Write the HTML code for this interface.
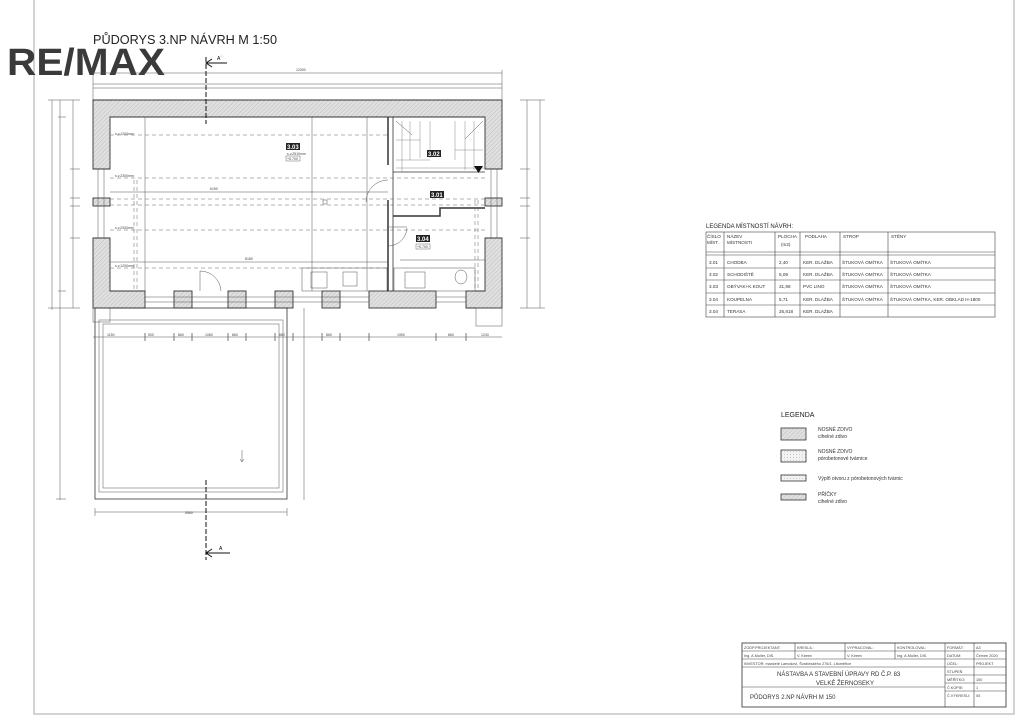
<!DOCTYPE html>
<html><head><meta charset="utf-8"><style>
html,body{margin:0;padding:0;background:#fff;}
svg{display:block;font-family:"Liberation Sans",sans-serif;}
.t{font-size:5px;fill:#333}
.s{font-size:3.5px;fill:#444}
</style></head><body>
<svg width="1024" height="723" viewBox="0 0 1024 723" xmlns="http://www.w3.org/2000/svg">
<defs>
<pattern id="h" width="3" height="3" patternUnits="userSpaceOnUse" patternTransform="rotate(45)">
<rect width="3" height="3" fill="#e0e0e0"/><line x1="0" y1="0" x2="0" y2="3" stroke="#b5b5b5" stroke-width="0.8"/></pattern>
<pattern id="d" width="3" height="3" patternUnits="userSpaceOnUse"><rect width="3" height="3" fill="#f2f2f2"/><circle cx="1.5" cy="1.5" r="0.4" fill="#999"/></pattern>
</defs>
<rect width="1024" height="723" fill="#fff"/>
<path d="M34 0 V714 H1014 V0" fill="none" stroke="#aaa" stroke-width="1"/>

<text x="93" y="44" font-size="12.5" fill="#222" textLength="184" lengthAdjust="spacingAndGlyphs">PŮDORYS 3.NP NÁVRH M 1:50</text>
<text x="7" y="75" font-size="38" font-weight="bold" fill="#3a3a3a" textLength="158" lengthAdjust="spacingAndGlyphs">RE/MAX</text>

<g stroke="#555" stroke-width="0.5" fill="none">
<line x1="93" y1="73" x2="502" y2="73"/><line x1="93" y1="70" x2="93" y2="100"/><line x1="502" y1="70" x2="502" y2="100"/>
<line x1="93" y1="84" x2="502" y2="84"/><line x1="93" y1="88" x2="502" y2="88"/>
<line x1="52" y1="100" x2="52" y2="310"/><line x1="60" y1="100" x2="60" y2="500"/><line x1="73" y1="100" x2="73" y2="308"/>
<line x1="48" y1="100" x2="80" y2="100"/><line x1="48" y1="308" x2="80" y2="308"/>
<line x1="70" y1="169" x2="80" y2="169"/><line x1="70" y1="198" x2="80" y2="198"/><line x1="70" y1="206" x2="80" y2="206"/><line x1="70" y1="238" x2="80" y2="238"/><line x1="58" y1="117" x2="66" y2="117"/><line x1="58" y1="291" x2="66" y2="291"/>
<line x1="56" y1="499" x2="66" y2="499"/>
<line x1="527" y1="100" x2="527" y2="308"/><line x1="540" y1="100" x2="540" y2="308"/>
<line x1="520" y1="100" x2="545" y2="100"/><line x1="520" y1="308" x2="545" y2="308"/>
<line x1="520" y1="169" x2="530" y2="169"/><line x1="520" y1="198" x2="530" y2="198"/><line x1="520" y1="206" x2="530" y2="206"/><line x1="520" y1="238" x2="530" y2="238"/>
</g>
<text class="s" x="296" y="71">12300</text>

<g fill="url(#h)" stroke="#333" stroke-width="0.9">
<path d="M93 100 H502 V169 H485 V117 H110 V169 H93 Z"/>
<rect x="93" y="198" width="17" height="8"/><rect x="485" y="198" width="17" height="8"/>
<path d="M93 238 H110 V291 H145 V308 H93 Z"/>
<path d="M485 238 H502 V308 H466 V291 H485 Z"/>
<rect x="174" y="291" width="18" height="17"/><rect x="228" y="291" width="18" height="17"/>
<rect x="275" y="291" width="18" height="17"/><rect x="322" y="291" width="18" height="17"/>
<rect x="369" y="291" width="67" height="17"/>
</g>
<g stroke="#555" stroke-width="0.5" fill="none">
<line x1="98" y1="169" x2="98" y2="238"/><line x1="104" y1="169" x2="104" y2="238"/>
<line x1="491" y1="169" x2="491" y2="238"/><line x1="497" y1="169" x2="497" y2="238"/>
<line x1="145" y1="297" x2="369" y2="297"/><line x1="145" y1="302" x2="369" y2="302"/>
<line x1="436" y1="297" x2="466" y2="297"/><line x1="436" y1="302" x2="466" y2="302"/>
<rect x="93" y="308" width="17" height="14"/><rect x="476" y="308" width="26" height="18"/>
<line x1="388" y1="117" x2="388" y2="165" stroke="#333" stroke-width="1.5"/>
<line x1="388" y1="200" x2="388" y2="291" stroke="#333" stroke-width="1.5"/>
<line x1="393" y1="117" x2="393" y2="291" stroke="#333" stroke-width="0.8"/>
<path d="M393 216 H440 V208 H485" stroke="#333" stroke-width="1.5"/>
<line x1="393" y1="172" x2="485" y2="172" stroke="#333" stroke-width="0.8"/>
<path d="M396 121 L412 135 M483 121 L465 139" />
<g stroke="#888"><line x1="402" y1="121" x2="402" y2="172"/><line x1="410" y1="121" x2="410" y2="160"/><line x1="420" y1="121" x2="420" y2="158"/><line x1="430" y1="121" x2="430" y2="158"/><line x1="455" y1="121" x2="455" y2="160"/><line x1="465" y1="121" x2="465" y2="170"/><line x1="474" y1="121" x2="474" y2="170"/>
<line x1="396" y1="140" x2="420" y2="140"/><line x1="396" y1="160" x2="430" y2="160"/><line x1="455" y1="150" x2="483" y2="150"/><line x1="396" y1="168" x2="485" y2="168"/></g>
<g stroke="#666" stroke-dasharray="4,3"><line x1="110" y1="135" x2="388" y2="135"/><line x1="110" y1="178" x2="485" y2="178"/>
<line x1="110" y1="199" x2="485" y2="199"/><line x1="110" y1="205" x2="485" y2="205"/>
<line x1="110" y1="230" x2="485" y2="230"/><line x1="110" y1="268" x2="388" y2="268"/>
<line x1="134" y1="180" x2="134" y2="291"/><line x1="137" y1="180" x2="137" y2="291"/>
<line x1="475" y1="200" x2="475" y2="291"/><line x1="478" y1="200" x2="478" y2="291"/></g>
<line x1="145" y1="117" x2="145" y2="291"/><line x1="312" y1="117" x2="312" y2="291"/><line x1="367" y1="117" x2="367" y2="291"/>
<line x1="110" y1="192" x2="388" y2="192"/><line x1="110" y1="262" x2="388" y2="262"/>
<line x1="400" y1="260" x2="485" y2="260"/>
<path d="M200 271 A 21 21 0 0 1 221 291"/><line x1="200" y1="271" x2="200" y2="291"/>
<path d="M388 180 A 22 22 0 0 0 366 202"/><path d="M388 246 A 19 19 0 0 0 407 228"/><line x1="388" y1="227" x2="407" y2="227"/>
<rect x="302" y="268" width="85" height="23"/><rect x="311" y="272" width="16" height="16"/><rect x="343" y="272" width="14" height="14"/>
<rect x="394" y="268" width="81" height="23"/><rect x="405" y="272" width="20" height="16"/>
<ellipse cx="461" cy="277" rx="6" ry="7"/>
<rect x="323" y="200" width="4" height="4"/>
<rect x="95" y="308" width="192" height="191" stroke="#333" stroke-width="0.8"/>
<rect x="99" y="320" width="184" height="172"/>
<rect x="103" y="324" width="176" height="164"/>
<line x1="304" y1="308" x2="304" y2="500"/>
<line x1="95" y1="512" x2="287" y2="512"/><line x1="95" y1="508" x2="95" y2="516"/><line x1="287" y1="508" x2="287" y2="516"/>
<line x1="93" y1="337" x2="502" y2="337"/>
<g stroke-width="0.8"><line x1="145" y1="333" x2="145" y2="341"/><line x1="174" y1="333" x2="174" y2="341"/><line x1="192" y1="333" x2="192" y2="341"/><line x1="228" y1="333" x2="228" y2="341"/><line x1="246" y1="333" x2="246" y2="341"/><line x1="275" y1="333" x2="275" y2="341"/><line x1="293" y1="333" x2="293" y2="341"/><line x1="322" y1="333" x2="322" y2="341"/><line x1="340" y1="333" x2="340" y2="341"/><line x1="369" y1="333" x2="369" y2="341"/><line x1="436" y1="333" x2="436" y2="341"/><line x1="466" y1="333" x2="466" y2="341"/></g>
<path d="M242 450 V462" /><path d="M240 459 L242 462 L244 459"/>
</g>
<g stroke="#111" stroke-width="1" fill="none">
<line x1="206" y1="57" x2="206" y2="124" stroke-dasharray="5,2"/>
<line x1="206" y1="63" x2="227" y2="63"/><path d="M212 59 L206 63 L212 67"/>
<line x1="206" y1="480" x2="206" y2="560" stroke-dasharray="5,2"/>
<line x1="206" y1="553" x2="230" y2="553"/><path d="M212 549 L206 553 L212 557"/>
</g>
<text x="217" y="60" font-size="5">A´</text><text x="219" y="550" font-size="5">A</text>
<g font-size="6" font-weight="bold"><rect x="286" y="143" width="14" height="7" fill="#222"/><text x="287" y="149" fill="#fff">3.03</text>
<rect x="427" y="150" width="14" height="7" fill="#222"/><text x="428" y="156" fill="#fff">3.02</text>
<rect x="430" y="191" width="14" height="7" fill="#222"/><text x="431" y="197" fill="#fff">3.01</text>
<rect x="416" y="235" width="14" height="7" fill="#222"/><text x="417" y="241" fill="#fff">3.04</text></g>
<text class="s" x="287" y="155">s.v.2510mm</text><rect x="286" y="156" width="14" height="5" fill="none" stroke="#444" stroke-width="0.4"/><text class="s" x="287" y="160">+5.700</text>
<rect x="416" y="244" width="14" height="5" fill="none" stroke="#444" stroke-width="0.4"/><text class="s" x="417" y="248">+5.700</text>
<path d="M474 166 L483 166 L478.5 173 Z" fill="#111"/>
<g class="s"><text x="115" y="135">s.v.1200mm</text><text x="115" y="177">s.v.2300mm</text><text x="115" y="229">s.v.2300mm</text><text x="115" y="267">s.v.1200mm</text><text x="210" y="190">6150</text><text x="245" y="260">8180</text>
<text x="107" y="336">1150</text><text x="148" y="336">500</text><text x="178" y="336">860</text><text x="205" y="336">1060</text><text x="232" y="336">860</text><text x="279" y="336">860</text><text x="326" y="336">860</text><text x="397" y="336">1950</text><text x="448" y="336">860</text><text x="481" y="336">1240</text>
<text x="185" y="514">5560</text></g>

<text x="706" y="228" font-size="6" fill="#222">LEGENDA MÍSTNOSTÍ NÁVRH:</text>
<g stroke="#444" stroke-width="0.6" fill="none">
<rect x="706" y="232" width="289" height="85"/>
<line x1="706" y1="252" x2="995" y2="252"/><line x1="706" y1="255" x2="995" y2="255"/>
<line x1="706" y1="268" x2="995" y2="268"/><line x1="706" y1="280" x2="995" y2="280"/><line x1="706" y1="293" x2="995" y2="293"/><line x1="706" y1="305" x2="995" y2="305"/>
<line x1="724" y1="232" x2="724" y2="317"/><line x1="775" y1="232" x2="775" y2="317"/><line x1="800" y1="232" x2="800" y2="317"/><line x1="840" y1="232" x2="840" y2="317"/><line x1="888" y1="232" x2="888" y2="317"/>
</g>
<g class="t" style="font-size:4.6px">
<text x="707" y="238">ČÍSLO</text><text x="707" y="244">MÍST.</text><text x="727" y="238">NÁZEV</text><text x="727" y="244">MÍSTNOSTI</text><text x="778" y="238">PLOCHA</text><text x="781" y="246">(m2)</text><text x="805" y="238">PODLAHA</text><text x="843" y="238">STROP</text><text x="891" y="238">STĚNY</text>
<text x="709" y="264">3.01</text><text x="727" y="264">CHODBA</text><text x="779" y="264">2,40</text><text x="803" y="264">KER. DLAŽBA</text><text x="842" y="264">ŠTUKOVÁ OMÍTKA</text><text x="890" y="264">ŠTUKOVÁ OMÍTKA</text>
<text x="709" y="276">3.02</text><text x="727" y="276">SCHODIŠTĚ</text><text x="779" y="276">5,09</text><text x="803" y="276">KER. DLAŽBA</text><text x="842" y="276">ŠTUKOVÁ OMÍTKA</text><text x="890" y="276">ŠTUKOVÁ OMÍTKA</text>
<text x="709" y="288">3.03</text><text x="727" y="288">OBÝVAK+K.KOUT</text><text x="779" y="288">31,98</text><text x="803" y="288">PVC LINO</text><text x="842" y="288">ŠTUKOVÁ OMÍTKA</text><text x="890" y="288">ŠTUKOVÁ OMÍTKA</text>
<text x="709" y="301">3.04</text><text x="727" y="301">KOUPELNA</text><text x="779" y="301">5,71</text><text x="803" y="301">KER. DLAŽBA</text><text x="842" y="301">ŠTUKOVÁ OMÍTKA</text><text x="890" y="301">ŠTUKOVÁ OMÍTKA, KER. OBKLAD H-1800</text>
<text x="709" y="313">3.04</text><text x="727" y="313">TERASA</text><text x="779" y="313">26,818</text><text x="803" y="313">KER. DLAŽBA</text>
</g>

<text x="781" y="417" font-size="7" fill="#222">LEGENDA</text>
<g stroke="#333" stroke-width="0.8"><rect x="781" y="428" width="25" height="12" fill="url(#h)"/><rect x="781" y="450" width="25" height="12" fill="url(#d)"/><rect x="781" y="475" width="25" height="6" fill="url(#d)"/><rect x="781" y="494" width="25" height="6" fill="url(#h)"/></g>
<g class="t" style="font-size:5px"><text x="818" y="431">NOSNÉ ZDIVO</text><text x="818" y="438">cihelné zdivo</text><text x="818" y="453">NOSNÉ ZDIVO</text><text x="818" y="460">pórobetonové tvárnice</text><text x="818" y="480">Výplň otvoru z pórobetonových tvárnic</text><text x="818" y="496">PŘÍČKY</text><text x="818" y="503">cihelné zdivo</text></g>

<g stroke="#444" stroke-width="0.6" fill="none">
<rect x="742" y="643" width="264" height="64" stroke-width="0.9"/>
<line x1="742" y1="651" x2="1006" y2="651"/><line x1="742" y1="659" x2="1006" y2="659"/><line x1="742" y1="667" x2="1006" y2="667"/>
<line x1="945" y1="675" x2="1006" y2="675"/><line x1="945" y1="683" x2="1006" y2="683"/><line x1="945" y1="691" x2="1006" y2="691"/><line x1="742" y1="687" x2="945" y2="687"/>
<line x1="795" y1="643" x2="795" y2="659"/><line x1="845" y1="643" x2="845" y2="659"/><line x1="895" y1="643" x2="895" y2="659"/>
<line x1="945" y1="643" x2="945" y2="707"/><line x1="974" y1="643" x2="974" y2="707"/>
</g>
<g class="s" style="font-size:3.8px"><text x="744" y="649">ZODP.PROJEKTANT:</text><text x="797" y="649">KRESLIL:</text><text x="847" y="649">VYPRACOVAL:</text><text x="897" y="649">KONTROLOVAL:</text>
<text x="744" y="657">Ing. A.Muller, DiS.</text><text x="797" y="657">V. Kireev</text><text x="847" y="657">V. Kireev</text><text x="897" y="657">Ing. A.Muller, DiS.</text>
<text x="744" y="665">INVESTOR: manželé Lamošovi, Švabinského 276/1, Litoměřice</text>
<text x="947" y="649">FORMÁT:</text><text x="976" y="649">A3</text><text x="947" y="657">DATUM:</text><text x="976" y="657">Červen 2020</text><text x="947" y="665">ÚČEL:</text><text x="976" y="665">PROJEKT</text><text x="947" y="673">STUPEŇ</text><text x="947" y="681">MĚŘÍTKO:</text><text x="976" y="681">150</text><text x="947" y="689">Č.KOPIE:</text><text x="976" y="689">1</text><text x="947" y="697">Č.VÝKRESU:</text><text x="976" y="697">05</text></g>
<text x="777" y="676" font-size="6" fill="#333">NÁSTAVBA A STAVEBNÍ ÚPRAVY RD Č.P. 83</text>
<text x="816" y="685" font-size="6" fill="#333">VELKÉ ŽERNOSEKY</text>
<text x="750" y="699" font-size="6" fill="#333">PŮDORYS 2.NP NÁVRH M 150</text>
</svg>
</body></html>
